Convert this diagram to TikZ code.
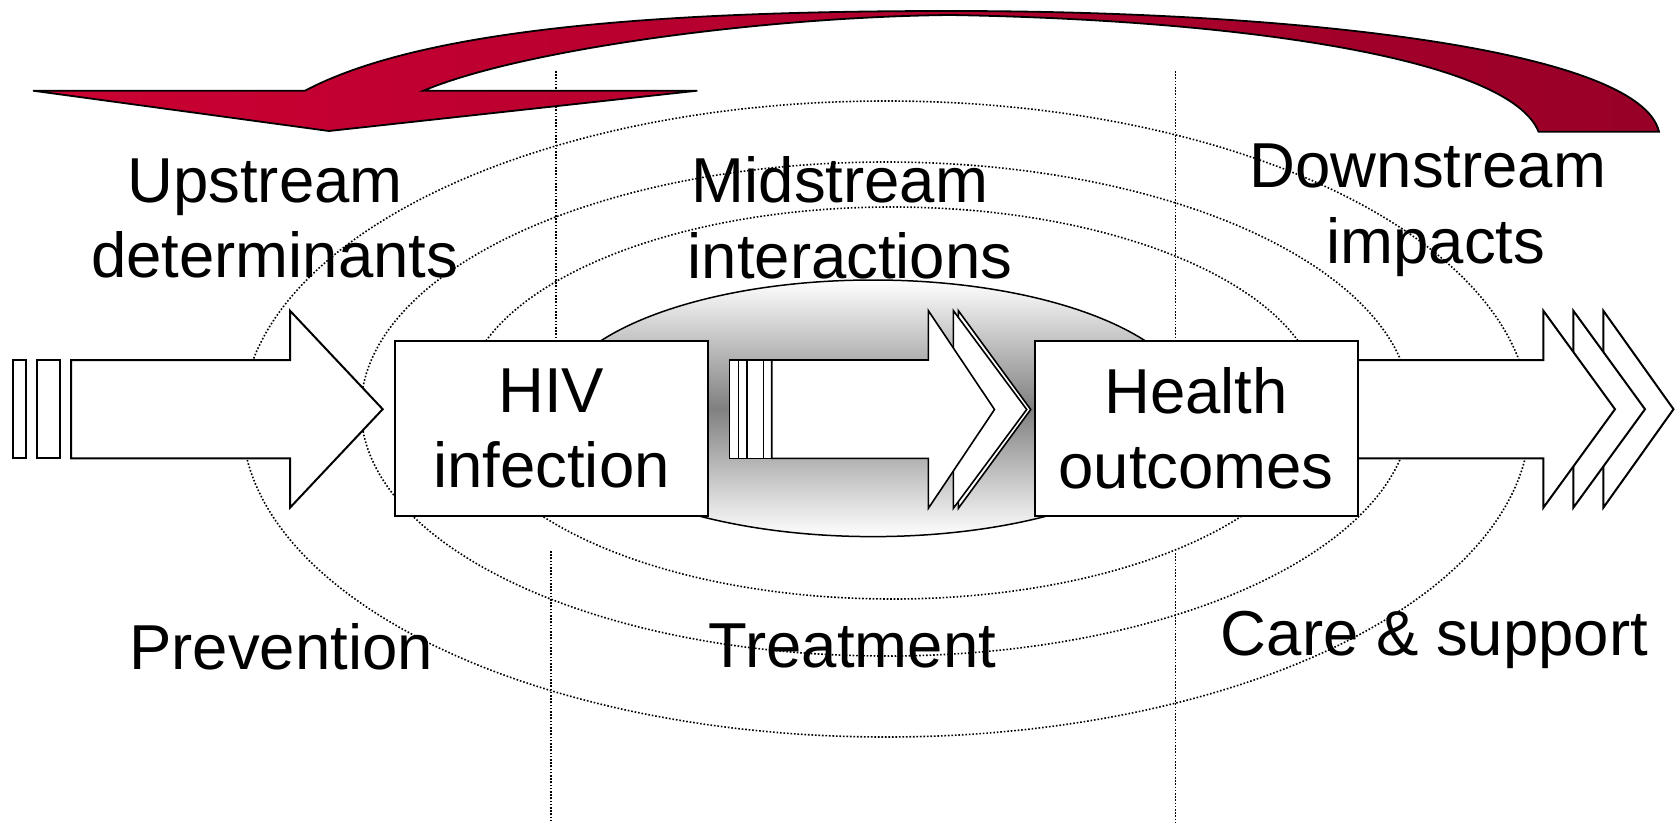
\documentclass[tikz,border=0pt]{standalone}
\usepackage{fontspec}
\setmainfont{Liberation Sans}
\definecolor{arrowlight}{RGB}{204,0,51}
\definecolor{arrowdark}{RGB}{152,0,40}
\begin{document}
\begin{tikzpicture}[x=1pt,y=-1pt,
  ring/.style={draw=black, line width=1.6pt, dash pattern=on 1.6pt off 1.9pt},
  divider/.style={draw=black, line width=1.6pt, dash pattern=on 1.6pt off 1.6pt},
  outlined/.style={draw=black, line width=2pt, fill=white, line join=miter},
  thinoutlined/.style={outlined, line width=1.6pt},
  stagebox/.style={outlined, rectangle, inner sep=0pt, minimum height=174.7pt,
    align=center, font=\fontsize{63.5}{75.5}\selectfont},
  lbl/.style={anchor=base, inner sep=0pt, font=\fontsize{63.5}{75.5}\selectfont},
]
\useasboundingbox (0,0) rectangle (1676,822);

% concentric dotted rings
\draw[ring] (886,419) ellipse [x radius=644, y radius=318];
\draw[ring] (886,409) ellipse [x radius=525, y radius=247];
\draw[ring] (892,403) ellipse [x radius=428, y radius=196];

% dotted stage dividers
\draw[divider] (556,71) -- (556,341);
\draw[divider] (551,551) -- (551,822);
\draw[divider] (1175.5,71) -- (1175.5,341);
\draw[divider] (1175.5,553) -- (1175.5,822);

% feedback arrow from downstream back to upstream
\path[draw=black, line width=1.8pt, line join=miter, left color=arrowlight, right color=arrowdark]
  (33,90.7) -- (305,90.7)
  .. controls (420,30) and (650,11) .. (950,11)
  .. controls (1300,11) and (1640,50) .. (1659,131.7)
  -- (1538.5,131.7)
  .. controls (1510,60) and (1250,20) .. (950,15)
  .. controls (760,17) and (520,50) .. (423.5,90.7)
  -- (697.4,90.7) -- (329,131) -- cycle;

% shaded interaction zone
\path[draw=black, line width=1.5pt, top color=white, bottom color=white, middle color=black!50]
  (873,408.3) ellipse [x radius=320, y radius=128.3];

% upstream arrow with stripes
\draw[outlined] (13.3,360) rectangle (25.7,458.3);
\draw[outlined] (36.7,360) rectangle (60.3,458.3);
\draw[outlined] (71,360) -- (290,360) -- (290,310.7) -- (382.7,409.2)
  -- (290,507.7) -- (290,458.3) -- (71,458.3) -- cycle;

% midstream arrow
\draw[thinoutlined] (958.3,310.6) -- (1030.7,409.5) -- (958.3,508.4) -- cycle;
\draw[thinoutlined] (953.3,310.6) -- (1026.7,409.5) -- (953.3,508.4) -- cycle;
\draw[thinoutlined] (729.3,360) rectangle (771.7,458.3);
\draw[thinoutlined] (738.3,360) -- (738.3,458.3) (746.7,360) -- (746.7,458.3)
  (763.3,360) -- (763.3,458.3);
\draw[thinoutlined] (771.7,360) -- (928.3,360) -- (928.3,310.6) -- (994.5,409.5)
  -- (928.3,508.4) -- (928.3,458.3) -- (771.7,458.3) -- cycle;

% downstream arrow
\draw[outlined] (1603.3,310.7) -- (1673.5,409.2) -- (1603.3,507.7) -- cycle;
\draw[outlined] (1573.3,310.7) -- (1645,409.2) -- (1573.3,507.7) -- cycle;
\draw[outlined] (1340,360) -- (1543.3,360) -- (1543.3,310.7) -- (1615,409.2)
  -- (1543.3,507.7) -- (1543.3,458.3) -- (1340,458.3) -- cycle;

% stage boxes
\node[stagebox, minimum width=313.3pt] (hiv) at (551.4,428.3) {HIV\\infection};
\node[stagebox, minimum width=322.8pt] (health) at (1196.1,428.3) {Health\\outcomes};

% labels
\node[lbl] (up1) at (265,202) {Upstream};
\node[lbl] (up2) at (274.8,277.8) {determinants};
\node[lbl] (mid1) at (840,202) {Midstream};
\node[lbl] (mid2) at (850,278) {interactions};
\node[lbl] (down1) at (1428,187.3) {Downstream};
\node[lbl] (down2) at (1436,263) {impacts};
\node[lbl] (prev) at (281,669) {Prevention};
\node[lbl] (treat) at (852.5,667) {Treatment};
\node[lbl] (care) at (1434.5,655) {Care \& support};
\end{tikzpicture}
\end{document}
